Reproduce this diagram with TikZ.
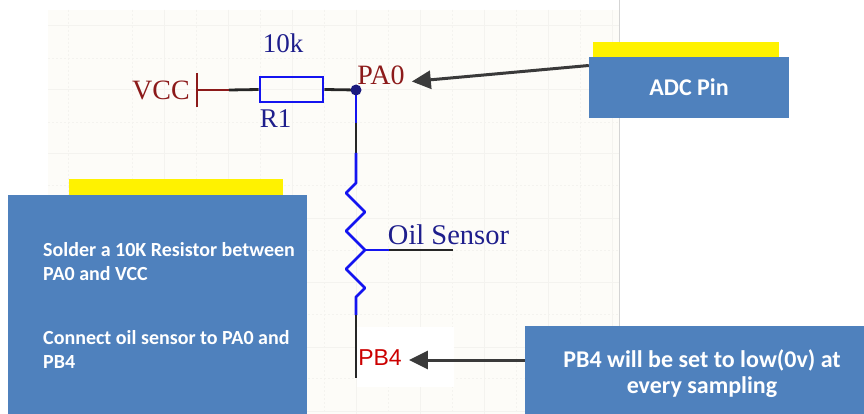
\documentclass[tikz,border=0pt]{standalone}
\usepackage{fontspec}
\setmainfont{Liberation Serif}
\newfontfamily\boxfont[Ligatures=TeX]{Carlito}
\newfontfamily\pinfont{Liberation Sans}
\usetikzlibrary{arrows.meta}
\definecolor{paper}{HTML}{FDFCF8}
\definecolor{gridc}{HTML}{F4F3EF}
\definecolor{edgec}{HTML}{D4D4D4}
\definecolor{boxblue}{HTML}{4F81BD}
\definecolor{wireblue}{HTML}{1414F0}
\definecolor{wirered}{HTML}{8C1A1A}
\definecolor{labblue}{HTML}{1E1E8C}
\definecolor{arrowc}{HTML}{3A3A3A}
\tikzset{
  x=1pt,y=-1pt,
  gridsolid/.style={draw=gridc,line width=0.8pt},
  griddot/.style={draw=gridc,line width=0.7pt,dash pattern=on 2pt off 2pt},
  wireb/.style={draw=black!85,line width=2.8pt},
  wirebl/.style={draw=wireblue,line width=2.8pt,line join=round},
  wirer/.style={draw=wirered,line width=2.8pt},
  pinlab/.style={inner sep=0pt,text=wirered,font=\fontsize{28}{28}\selectfont},
  compl/.style={inner sep=0pt,text=labblue,font=\fontsize{27}{27}\selectfont},
  bluebox/.style={fill=boxblue,draw=none,inner sep=0pt,text=white,font=\boxfont\bfseries\fontsize{24}{26}\selectfont},
  notetext/.style={inner sep=0pt,text=white,anchor=west,font=\boxfont\bfseries\fontsize{20}{24}\selectfont},
  callout/.style={draw=arrowc,line width=3pt,-{Triangle[length=19pt,width=18pt]}},
}
\begin{document}
\begin{tikzpicture}
\useasboundingbox (0,0) rectangle (864,414);
\fill[white] (0,0) rectangle (864,414);
% sheet
\fill[paper] (48,10) rectangle (619,414);
\foreach \gx in {164,228,292,356,420,484,548,612} \draw[gridsolid] (\gx,10) -- (\gx,414);
\foreach \gx in {68,132,196,260,324,388,452,516,580} \draw[griddot] (\gx,10) -- (\gx,414);
\foreach \gy in {25,89,153,218,282,347,411} \draw[gridsolid] (48,\gy) -- (619,\gy);
\foreach \gy in {58,122,185,250,314,378} \draw[griddot] (48,\gy) -- (619,\gy);
\draw[edgec,line width=1.2pt] (619.5,0) -- (619.5,414);
\fill[white] (357,327) rectangle (454,387);
% coordinates of the circuit
\coordinate (vtop) at (197,73);
\coordinate (vbot) at (197,107);
\coordinate (v0) at (197,90);
\coordinate (v1) at (229,90);
\coordinate (j) at (356,90);
\coordinate (c1) at (356,123);
\coordinate (c2) at (356,153);
\coordinate (c3) at (356,315);
\coordinate (c4) at (356,378);
\coordinate (t0) at (365,250);
\coordinate (t1) at (389,250);
\coordinate (t2) at (453,250);
% resistor R1
\node[draw=wireblue,line width=2.8pt,minimum width=63pt,minimum height=25pt,inner sep=0pt] (r1) at (291.5,89.5) {};
% wires
\draw[wirer] (vtop) -- (vbot);
\draw[wirer] (v0) -- (v1);
\draw[wireb] (v1) -- (r1.west);
\draw[wireb] (r1.east) -- (j);
\draw[wirebl] (j) -- (c1);
\draw[wireb] (c1) -- (c2);
\draw[wirebl] (c2) -- (356,183) -- (346,193) -- (365,212) -- (346,231) -- (t0) -- (346,269) -- (365,288) -- (356,297) -- (c3);
\draw[wireb] (c3) -- (c4);
\draw[wirebl] (t0) -- (t1);
\draw[wireb] (t1) -- (t2);
\fill[labblue!90!black] (j) circle (5.5);
% labels
\node[compl] (val) at (283,43) {10k};
\node[compl] (rname) at (275.5,119) {R1};
\node[compl,font=\fontsize{28.5}{28.5}\selectfont] (oil) at (448.5,235) {Oil Sensor};
\node[pinlab] (vcc) at (161,90) {VCC};
\node[pinlab,inner xsep=7pt] (pa0) at (381,75) {PA0};
\node[inner sep=0pt,inner xsep=7pt,text=red!80!black,font=\pinfont\fontsize{23}{23}\selectfont] (pb4) at (380,358) {PB4};
% call-out boxes
\fill[yellow] (593,42) rectangle (779,58);
\fill[yellow] (69,179) rectangle (283,196);
\node[bluebox,minimum width=200pt,minimum height=61pt] (adc) at (689,87.5) {ADC Pin};
\node[bluebox,minimum width=339pt,minimum height=88pt] (low) at (694.5,370) {};
\node[inner sep=0pt,text=white,align=center,font=\boxfont\bfseries\fontsize{24}{26}\selectfont] (lowt) at (702,374) {PB4 will be set to low(0v) at\\every sampling};
\node[bluebox,minimum width=299pt,minimum height=219pt] (note) at (157.5,304.5) {};
\node[notetext] (n1) at (43,250) {Solder a 10K Resistor between};
\node[notetext] (n2) at (43,274) {PA0 and VCC};
\node[notetext] (n3) at (43,338) {Connect oil sensor to PA0 and};
\node[notetext] (n4) at (43,362) {PB4};
% arrows
\draw[callout] ([yshift=22pt]adc.west) -- ([yshift=-6.5pt]pa0.east);
\draw[callout] ([yshift=10pt]low.west) -- (pb4.east |- 0,360);
\end{tikzpicture}
\end{document}
